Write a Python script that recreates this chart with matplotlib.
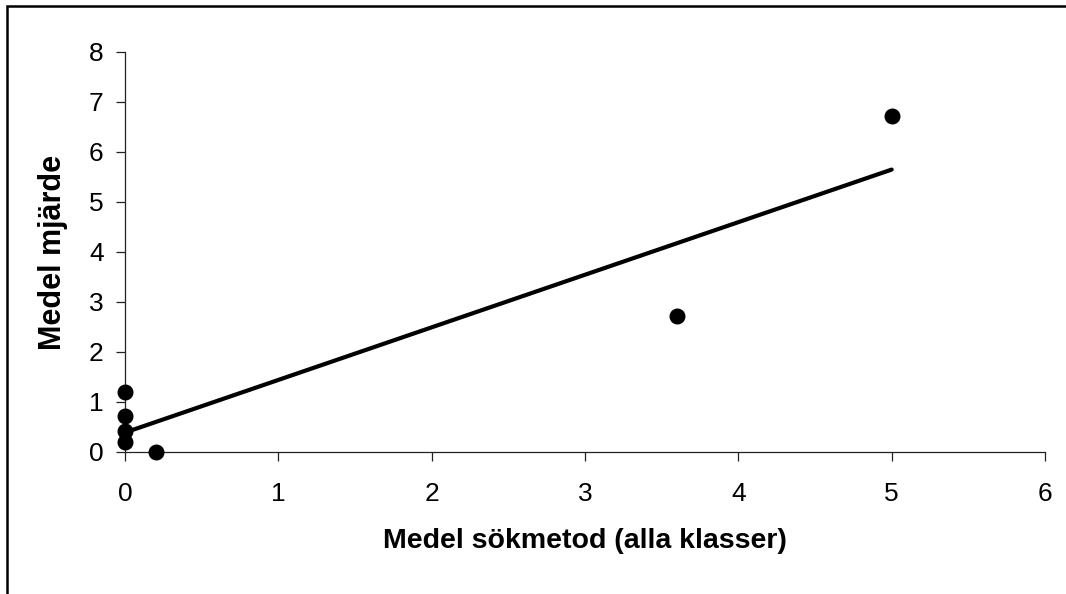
import numpy as np
import matplotlib.pyplot as plt
from matplotlib.patches import Rectangle

plt.rcParams['font.family'] = ['Liberation Sans', 'DejaVu Sans']

# medel sökmetod vs medel mjärde
sokmetod = [0.0, 0.0, 0.0, 0.0, 0.2, 3.6, 5.0]
mjarde = [1.2, 0.72, 0.42, 0.2, 0.0, 2.72, 6.72]
x_ticks = [0, 1, 2, 3, 4, 5, 6]
y_ticks = [0, 1, 2, 3, 4, 5, 6, 7, 8]

fig = plt.figure(figsize=(10.66, 5.94), dpi=100)
ax = fig.add_axes([0.1173, 0.2391, 0.8630, 0.6734])

# linear trend line, as in excel
k, m = np.polyfit(sokmetod, mjarde, 1)
xs = np.array([min(sokmetod), max(sokmetod)])
ax.plot(xs, k * xs + m, color="black", lw=3.0, solid_capstyle="round", zorder=2)

ax.plot(sokmetod, mjarde, "o", color="black", markersize=10.5, zorder=3,
        clip_on=False)

ax.set_xlim(0, 6)
ax.set_ylim(0, 8)
ax.set_xticks(x_ticks)
ax.set_yticks(y_ticks)
ax.spines["top"].set_visible(False)
ax.spines["right"].set_visible(False)
for s in ["left", "bottom"]:
    ax.spines[s].set_linewidth(0.9)
    ax.spines[s].set_color("#222222")
ax.tick_params(direction="out", length=6.5, width=0.9, labelsize=19,
               color="#222222")
ax.tick_params(axis="y", pad=9)
ax.tick_params(axis="x", pad=15)

ax.set_xlabel("Medel sökmetod (alla klasser)", fontsize=20.5, fontweight="bold")
ax.set_ylabel("Medel mjärde", fontsize=22, fontweight="bold")
ax.xaxis.set_label_coords(0.5, -0.19)
ax.yaxis.set_label_coords(-0.062, 0.5)

# chart area border (cut off at right and bottom)
fig.patches.append(Rectangle((0.007, -0.05), 1.05, 1.04, transform=fig.transFigure,
                             fill=False, edgecolor="black", lw=1.8))

fig.savefig("out.png", dpi=100)
plt.close()
